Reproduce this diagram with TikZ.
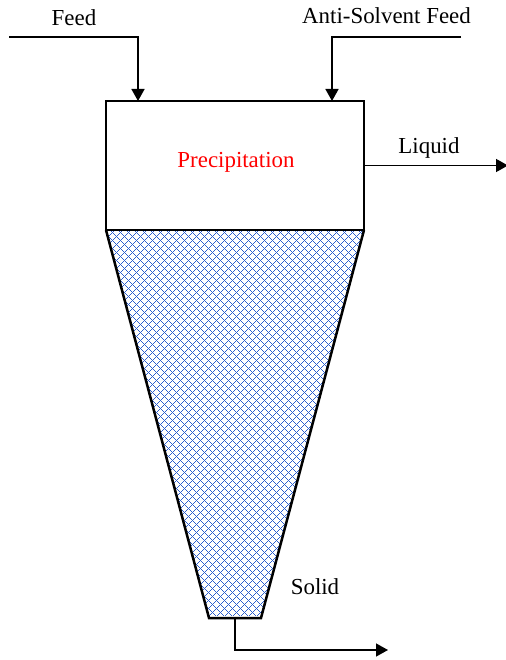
\documentclass[tikz,border=0pt]{standalone}
\usepackage{fontspec}
\setmainfont{Liberation Serif}
\usetikzlibrary{arrows.meta}
\definecolor{hatchblue}{RGB}{45,95,205}
\tikzset{
  pipe/.style={line width=1.6bp,-{Triangle[length=12bp,width=13bp]}},
  thinpipe/.style={line width=1.4bp,-{Triangle[length=12bp,width=13bp]}},
  box/.style={draw=black,line width=1.9bp},
  funnel/.style={draw=black,line width=2.5bp,line join=miter},
  lbl/.style={font=\fontsize{23}{25}\selectfont,inner sep=0pt,anchor=base},
  hatchrow/.style={draw=hatchblue,line width=1bp,dash pattern=on 1bp off 7bp},
}
\begin{document}
\begin{tikzpicture}[x=1bp,y=-1bp]
\useasboundingbox (0,0) rectangle (506,660);
\coordinate (fa) at (106,230);
\coordinate (fb) at (364,230);
\coordinate (fc) at (261,618);
\coordinate (fd) at (209,618);
\begin{scope}
  \clip (fa) -- (fb) -- (fc) -- (fd) -- cycle;
  \foreach \k in {0,1,...,48}{
    \foreach \r in {0,...,7}{
      \pgfmathtruncatemacro{\xa}{104+\r}
      \pgfmathtruncatemacro{\xb}{104+8-\r}
      \pgfmathsetmacro{\yy}{\r+232.5+8*\k-8}
      \draw[hatchrow] (\xa,\yy) -- (372,\yy);
      \draw[hatchrow] (\xb,\yy) -- (372,\yy);
    }
  }
\end{scope}
\draw[funnel] (fa) -- (fd) -- (fc) -- (fb);
\node[box,minimum width=258bp,minimum height=129bp,inner sep=0pt] (vesselbox) at (235,165.5) {};
\node[lbl,text=red] (prec) at (236,167) {Precipitation};
\node[lbl] (feed) at (74,26) {Feed};
\node[lbl] (anti) at (386.5,24) {Anti-Solvent Feed};
\node[lbl] (liquid) at (429,153) {Liquid};
\node[lbl] (solid) at (315,594) {Solid};
\coordinate (f0) at (9,37);
\coordinate (a0) at (461,37);
\coordinate (f1) at (138,101);
\coordinate (a1) at (332,101);
\coordinate (l0) at (364,165.5);
\coordinate (l1) at (508,165.5);
\coordinate (s0) at (235,618);
\coordinate (s1) at (388,650);
\draw[pipe] (f0) -| (f1);
\draw[pipe] (a0) -| (a1);
\draw[thinpipe] (l0) -- (l1);
\draw[thinpipe] (s0) |- (s1);
\end{tikzpicture}
\end{document}
